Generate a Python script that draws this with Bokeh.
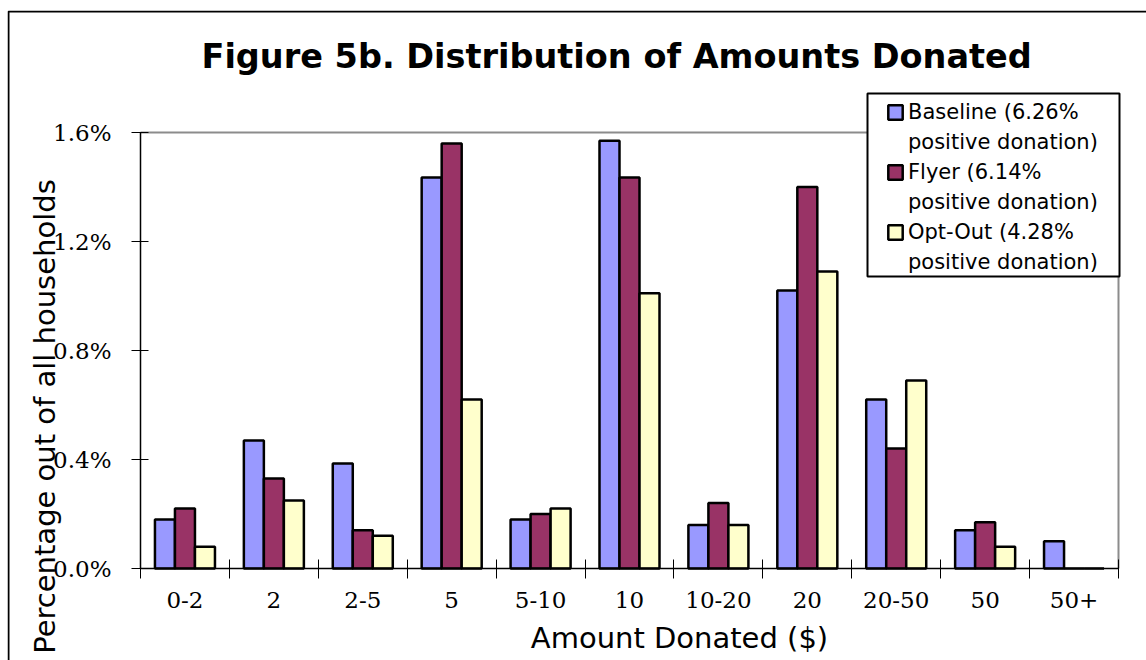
import math

from bokeh.embed import file_html
from bokeh.models import (BoxAnnotation, ColumnDataSource, FixedTicker, Label, Legend,
                          LegendItem, PrintfTickFormatter, Range1d)
from bokeh.plotting import figure
from bokeh.resources import INLINE

# Donation brackets ($) and share of all households (%) per treatment
categories = ["0-2", "2", "2-5", "5", "5-10", "10", "10-20", "20", "20-50", "50", "50+"]
baseline = [0.18, 0.47, 0.385, 1.435, 0.18, 1.57, 0.16, 1.02, 0.62, 0.14, 0.10]
flyer = [0.22, 0.33, 0.14, 1.56, 0.20, 1.435, 0.24, 1.40, 0.44, 0.17, 0.0]
optout = [0.08, 0.25, 0.12, 0.62, 0.22, 1.01, 0.16, 1.09, 0.69, 0.08, 0.0]

series_labels = [("Baseline (6.26%", "positive donation)"),
                 ("Flyer (6.14%", "positive donation)"),
                 ("Opt-Out (4.28%", "positive donation)")]
series_colors = ["#9999FF", "#993366", "#FFFFCC"]
y_ticks = [0.0, 0.4, 0.8, 1.2, 1.6]

SANS = "DejaVu Sans"
SERIF = "DejaVu Serif"

# Canvas and plot-area geometry (pixels).  The frame fills the whole canvas so the
# legend and titles can sit anywhere; the axes are pinned at the data origin.
W, H = 1139, 650
AREA_L, AREA_R = 133, 1111      # plot area left/right, from canvas left
AREA_T, AREA_B = 122, 558       # plot area top/bottom, from canvas top

n = len(categories)
ymax = y_ticks[-1]
xs = (AREA_R - AREA_L) / n
ys = (AREA_B - AREA_T) / ymax
x_range = Range1d(-AREA_L / xs, n + (W - AREA_R) / xs)
y_range = Range1d(-(H - AREA_B) / ys, ymax + AREA_T / ys)

centers = [i + 0.5 for i in range(n)]
bar_w = 0.225

p = figure(width=W, height=H, output_backend="svg", toolbar_location=None,
           x_range=x_range, y_range=y_range, min_border=0, margin=(10, 0, 0, 7))
p.background_fill_color = "white"
p.border_fill_color = "white"
p.outline_line_color = None
p.grid.visible = False

# Chart border: only its top and left edges fall inside the canvas
p.add_layout(BoxAnnotation(left=1, right=W + 20, top=H - 1, bottom=-20,
                           left_units="screen", right_units="screen",
                           top_units="screen", bottom_units="screen",
                           fill_alpha=0, line_color="black", line_alpha=1.0,
                           line_width=2))

# Grey border on the top and right of the plot area
p.line(x=[0, n, n], y=[ymax, ymax, 0], line_color="#8c8c8c", line_width=2)

# Grouped bars
renderers = []
for k, (vals, color) in enumerate(zip([baseline, flyer, optout], series_colors)):
    src = ColumnDataSource(dict(x=[c + (k - 1) * bar_w for c in centers], top=vals))
    r = p.vbar(x="x", top="top", bottom=0, width=bar_w, source=src,
               fill_color=color, line_color="black", line_width=2.5)
    renderers.append(r)

# invisible renderer used for the second line of each legend entry
blank = p.vbar(x=[], top=[], width=0.1, fill_alpha=0, line_alpha=0)

# X axis: labels at bracket centres, tick marks at bracket boundaries
xa = p.xaxis[0]
xa.fixed_location = 0
xa.bounds = (0, n)
xa.ticker = FixedTicker(ticks=centers, minor_ticks=list(range(n + 1)))
xa.major_label_overrides = {c: lab for c, lab in zip(centers, categories)}
xa.major_tick_in = 0
xa.major_tick_out = 0
xa.minor_tick_in = 9
xa.minor_tick_out = 10
xa.minor_tick_line_color = "black"
xa.axis_line_color = "black"
xa.axis_line_width = 1.5
xa.major_label_text_font = SERIF
xa.major_label_text_font_size = "23px"
xa.major_label_text_color = "black"
xa.major_label_standoff = 13

# Y axis
ya = p.yaxis[0]
ya.fixed_location = 0
ya.bounds = (0, ymax)
ya.ticker = FixedTicker(ticks=y_ticks, minor_ticks=[])
ya.formatter = PrintfTickFormatter(format="%.1f%%")
ya.major_tick_in = 8
ya.major_tick_out = 9
ya.major_tick_line_color = "black"
ya.axis_line_color = "black"
ya.axis_line_width = 1.5
ya.major_label_text_font = SERIF
ya.major_label_text_font_size = "23px"
ya.major_label_text_color = "black"
ya.major_label_standoff = 20

# Titles
p.add_layout(Label(x=194, y=604, x_units="screen", y_units="screen",
                   text="Figure 5b. Distribution of Amounts Donated",
                   text_align="left", text_baseline="alphabetic",
                   text_font=SANS, text_font_style="bold", text_font_size="33.5px",
                   text_color="black"))
p.add_layout(Label(x=672, y=23, x_units="screen", y_units="screen",
                   text="Amount Donated ($)", text_align="center", text_baseline="middle",
                   text_font=SANS, text_font_size="29px", text_color="black"))
p.add_layout(Label(x=37, y=244, x_units="screen", y_units="screen",
                   text="Percentage out of all households", angle=math.pi / 2,
                   text_align="center", text_baseline="middle",
                   text_font=SANS, text_font_size="29px", text_color="black"))

# Legend frame, then the entries (two lines per series) on top of it
p.add_layout(BoxAnnotation(left=860, right=1112, top=567, bottom=384,
                           left_units="screen", right_units="screen",
                           top_units="screen", bottom_units="screen",
                           fill_color="white", fill_alpha=1.0,
                           line_color="black", line_alpha=1.0, line_width=2))
items = []
for r, (first, second) in zip(renderers, series_labels):
    items.append(LegendItem(label=first, renderers=[r]))
    items.append(LegendItem(label=second, renderers=[blank]))
legend = Legend(items=items, location=(879, 386), orientation="vertical",
                glyph_width=18, glyph_height=18, label_height=18, spacing=6,
                padding=0, margin=0, label_standoff=4,
                label_text_font=SANS, label_text_font_size="21px",
                label_text_color="black", border_line_alpha=0,
                background_fill_alpha=0, click_policy="none")
p.add_layout(legend, "center")

open("out.html", "w").write(file_html(p, INLINE))
